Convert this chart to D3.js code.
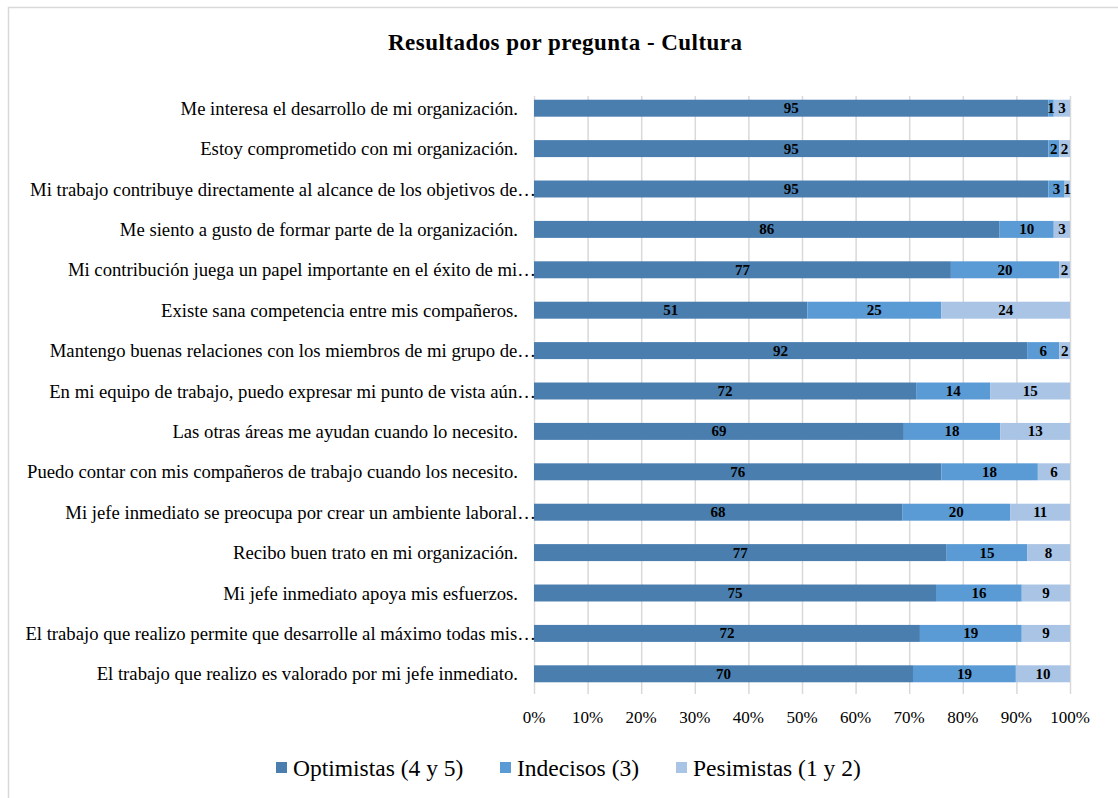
<!DOCTYPE html>
<html><head><meta charset="utf-8">
<script src="https://cdn.jsdelivr.net/npm/d3@7"></script>
<style>body{margin:0;background:#fff}svg{display:block}text{font-family:"Liberation Serif","Times New Roman",serif}</style>
</head><body><svg id="c" width="1118" height="798"></svg>
<script>
const categories = [
"Me interesa el desarrollo de mi organización.",
"Estoy comprometido con mi organización.",
"Mi trabajo contribuye directamente al alcance de los objetivos de…",
"Me siento a gusto de formar parte de la organización.",
"Mi contribución juega un papel importante en el éxito de mi…",
"Existe sana competencia entre mis compañeros.",
"Mantengo buenas relaciones con los miembros de mi grupo de…",
"En mi equipo de trabajo, puedo expresar mi punto de vista aún…",
"Las otras áreas me ayudan cuando lo necesito.",
"Puedo contar con mis compañeros de trabajo cuando los necesito.",
"Mi jefe inmediato se preocupa por crear un ambiente laboral…",
"Recibo buen trato en mi organización.",
"Mi jefe inmediato apoya mis esfuerzos.",
"El trabajo que realizo permite que desarrolle al máximo todas mis…",
"El trabajo que realizo es valorado por mi jefe inmediato."
];
const optimistas = [95,95,95,86,77,51,92,72,69,76,68,77,75,72,70];
const indecisos  = [1,2,3,10,20,25,6,14,18,18,20,15,16,19,19];
const pesimistas = [3,2,1,3,2,24,2,15,13,6,11,8,9,9,10];
const seriesNames = ["Optimistas (4 y 5)","Indecisos (3)","Pesimistas (1 y 2)"];
const colors = ["#4a7eaf","#5b9bd5","#a9c4e5"];
const tickLabels = ["0%","10%","20%","30%","40%","50%","60%","70%","80%","90%","100%"];

const svg = d3.select("#c");
svg.append("rect").attr("x",8.5).attr("y",7.5).attr("width",1120).attr("height",800)
  .attr("fill","#fff").attr("stroke","#d9d9d9").attr("stroke-width",1.5);

svg.append("text").attr("x",565).attr("y",49.5).attr("text-anchor","middle")
  .attr("font-size",23).attr("font-weight","bold")
  .attr("textLength",354).attr("lengthAdjust","spacing")
  .text("Resultados por pregunta - Cultura");

const L=534, R=1070, T=88, B=694;
const x = d3.scaleLinear().domain([0,1]).range([L,R]);
const y = d3.scaleBand().domain(categories).range([T,B]).paddingInner(0.58).paddingOuter(0.29);

// gridlines
svg.append("g").selectAll("line").data(d3.range(0,11)).join("line")
  .attr("x1",d=>x(d/10)+0.5).attr("x2",d=>x(d/10)+0.5)
  .attr("y1",T+8).attr("y2",B)
  .attr("stroke","#d9d9d9").attr("stroke-width",1.5);

const rows = categories.map((c,i)=>({c, v:[optimistas[i],indecisos[i],pesimistas[i]]}));
rows.forEach(r=>{
  const tot = d3.sum(r.v);
  let acc=0;
  r.segs = r.v.map((v,k)=>{const s={k,v,x0:acc/tot,x1:(acc+v)/tot,c:r.c}; acc+=v; return s;});
});

const g = svg.append("g");
rows.forEach(r=>{
  g.selectAll(null).data(r.segs).join("rect")
    .attr("x",d=>x(d.x0)).attr("width",d=>x(d.x1)-x(d.x0))
    .attr("y",y(r.c)).attr("height",y.bandwidth())
    .attr("fill",d=>colors[d.k]);
  g.selectAll(null).data(r.segs).join("text")
    .attr("x",d=>(x(d.x0)+x(d.x1))/2).attr("y",y(r.c)+y.bandwidth()/2+5)
    .attr("text-anchor","middle").attr("font-size",15).attr("font-weight","bold")
    .attr("fill","#000").text(d=>d.v);
});

// category labels
svg.append("g").selectAll("text").data(categories).join("text")
  .attr("x",d=>d.endsWith("…")?536:518).attr("y",d=>y(d)+y.bandwidth()/2+6.5)
  .attr("text-anchor","end").attr("font-size",18.7).attr("fill","#000").text(d=>d);

// x tick labels
svg.append("g").selectAll("text").data(tickLabels).join("text")
  .attr("x",(d,i)=>x(i/10)).attr("y",722.5).attr("text-anchor","middle")
  .attr("font-size",17).attr("fill","#000").text(d=>d);

// legend
const legX=[276,500,676];
const lg = svg.append("g");
seriesNames.forEach((n,i)=>{
  lg.append("rect").attr("x",legX[i]).attr("y",762).attr("width",11).attr("height",11).attr("fill",colors[i]);
  lg.append("text").attr("x",legX[i]+17).attr("y",776).attr("font-size",23.5).attr("fill","#000").text(n);
});
</script></body></html>
